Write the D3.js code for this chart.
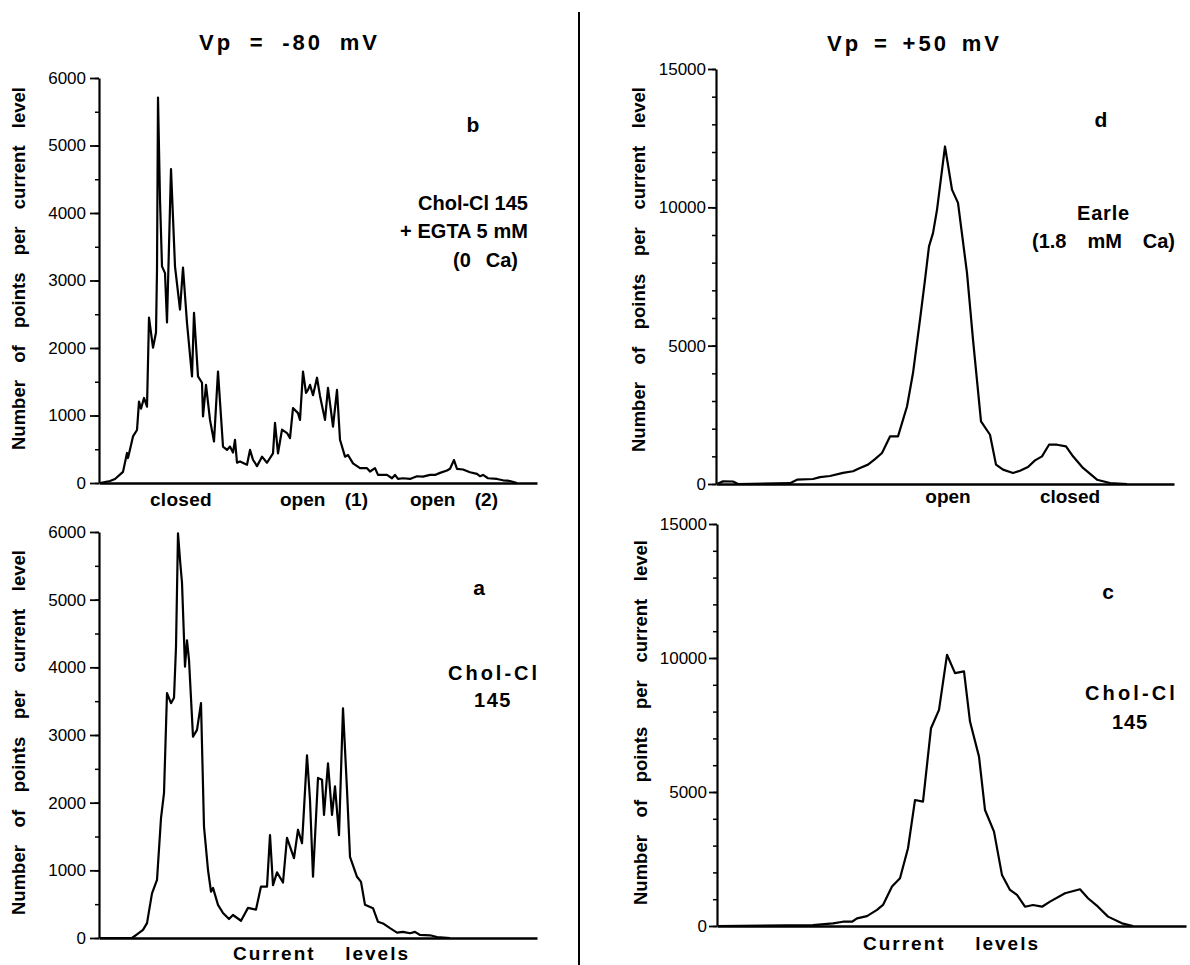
<!DOCTYPE html>
<html>
<head>
<meta charset="utf-8">
<script src="https://cdn.jsdelivr.net/npm/d3@7"></script>
<style>
  body { margin: 0; background: #fff; }
  svg { display: block; font-family: "Liberation Sans", Arial, Helvetica, sans-serif; }
</style>
</head>
<body>
<svg id="fig" width="1190" height="965"></svg>
<script>
// Amplitude histograms: [current level (bin), number of points]
const histB = [[1,0],[11,30],[16,60],[24,165],[28,445],[29,370],[34,690],[38,785],[40,1205],[42,1100],[45,1260],[48,1130],
  [50,2450],[54,2005],[57,2230],[58,3160],[59,5710],[61,4200],[63,3210],[66,3110],[68,2380],[72,4650],[76,3210],[81,2570],
  [84,3190],[88,2370],[93,1580],[95,2520],[99,1580],[103,1485],[104,985],[107,1455],[111,935],[115,615],[119,1650],[124,540],
  [128,490],[131,540],[134,450],[136,640],[138,300],[141,320],[148,270],[151,490],[154,345],[158,250],[163,390],[168,300],
  [174,440],[176,890],[179,440],[183,790],[188,740],[191,665],[194,1110],[199,1035],[201,935],[204,1650],[207,1335],[209,1380],
  [211,1455],[214,1300],[218,1560],[221,1290],[226,935],[229,1410],[234,835],[238,1380],[241,640],[246,390],[249,415],[254,290],
  [261,220],[268,220],[271,170],[276,220],[279,120],[288,120],[293,70],[296,120],[299,60],[304,70],[311,60],[318,100],[324,95],
  [331,120],[336,120],[341,150],[348,185],[351,210],[355,340],[358,210],[364,200],[371,160],[378,135],[381,100],[384,120],
  [389,70],[398,60],[404,40],[411,30],[418,0]];

const histA = [[1,0],[33,0],[38,55],[44,120],[48,220],[53,660],[58,860],[62,1770],[65,2140],[68,3620],[72,3470],[75,3550],
  [77,4300],[79,5980],[81,5590],[83,5250],[86,4010],[88,4400],[90,4110],[94,2975],[98,3075],[102,3470],[105,1645],[109,1005],
  [112,685],[114,740],[119,490],[124,370],[130,280],[134,340],[142,255],[149,445],[157,420],[162,760],[168,760],[171,1520],
  [174,780],[178,970],[184,820],[188,1480],[195,1180],[199,1600],[203,1400],[204,1645],[208,2700],[211,2040],[214,905],
  [219,2365],[223,2340],[225,1820],[229,2580],[233,1820],[236,2240],[240,1520],[244,3395],[248,2190],[251,1200],[258,905],
  [262,830],[266,490],[274,440],[279,240],[284,215],[291,145],[298,80],[304,90],[311,70],[316,90],[321,45],[331,40],[338,15],[351,0]];

const histD = [[1,0],[7,95],[17,90],[22,0],[74,30],[81,155],[97,180],[104,250],[114,290],[127,400],[137,460],[144,580],
  [152,700],[159,900],[166,1120],[174,1720],[182,1720],[191,2800],[197,4010],[204,5940],[209,7380],[213,8590],[217,9070],
  [221,9910],[229,12200],[236,10640],[242,10160],[251,7630],[257,5215],[265,2260],[274,1780],[280,700],[287,520],[297,400],
  [304,480],[312,615],[319,855],[326,1000],[333,1420],[341,1420],[350,1360],[357,1000],[367,580],[381,155],[394,36],[411,0]];

const histC = [[1,0],[96,30],[116,100],[126,160],[135,160],[140,285],[150,370],[160,600],[166,785],[175,1470],[183,1780],
  [191,2900],[198,4700],[206,4640],[214,7380],[222,8065],[230,10120],[238,9435],[247,9500],[253,7630],[262,6320],[268,4330],
  [277,3520],[285,1900],[293,1345],[300,1160],[308,720],[316,785],[325,720],[333,910],[348,1220],[363,1370],[371,1035],
  [381,720],[391,350],[405,100],[416,0]];

const ticksLow = [0, 1000, 2000, 3000, 4000, 5000, 6000];
const ticksHigh = [0, 5000, 10000, 15000];

const yTitle = "Number of points per current level";
const xTitle = "Current levels";
const titleNeg = "Vp = -80 mV";
const titlePos = "Vp = +50 mV";

const svg = d3.select("#fig");

// Panel frames (pixel layout)
const panels = [
  { id: "b", data: histB, x0: 99,  x1: 537,  y0: 483, y1: 78,  max: 6000,  ticks: ticksLow,  minor: 500,  tick: 9, pad: 4 },
  { id: "a", data: histA, x0: 99,  x1: 537,  y0: 938, y1: 532, max: 6000,  ticks: ticksLow,  minor: 500,  tick: 9, pad: 4 },
  { id: "d", data: histD, x0: 716, x1: 1174, y0: 484, y1: 69,  max: 15000, ticks: ticksHigh, minor: 1000, tick: 8, pad: 2 },
  { id: "c", data: histC, x0: 717, x1: 1186, y0: 926, y1: 524, max: 15000, ticks: ticksHigh, minor: 1000, tick: 8, pad: 2 }
];

panels.forEach(p => {
  const x = d3.scaleLinear().domain([0, p.x1 - p.x0]).range([p.x0, p.x1]);
  const y = d3.scaleLinear().domain([0, p.max]).range([p.y0, p.y1]);
  const g = svg.append("g");

  // minor ticks
  g.append("g").attr("transform", `translate(${p.x0},0)`)
    .call(d3.axisLeft(y).tickValues(d3.range(0, p.max + 1, p.minor)).tickSize(4).tickSizeOuter(0).tickFormat(""))
    .call(s => s.select(".domain").remove())
    .selectAll("line").attr("stroke", "#000").attr("stroke-width", 1.5);

  // major ticks with labels and axis line
  const ya = g.append("g").attr("transform", `translate(${p.x0},0)`)
    .call(d3.axisLeft(y).tickValues(p.ticks).tickSize(p.tick).tickSizeOuter(0).tickPadding(p.pad).tickFormat(d3.format("d")));
  ya.select(".domain").attr("stroke", "#000").attr("stroke-width", 2.2);
  ya.selectAll(".tick line").attr("stroke", "#000").attr("stroke-width", 1.8);
  ya.selectAll(".tick text").attr("font-size", 17).attr("fill", "#000")
    .attr("font-family", "\"Liberation Sans\", Arial, sans-serif");

  const xa = g.append("g").attr("transform", `translate(0,${p.y0})`)
    .call(d3.axisBottom(x).tickValues([]).tickSizeOuter(0));
  xa.select(".domain").attr("stroke", "#000").attr("stroke-width", 2.4);

  g.append("path").datum(p.data)
    .attr("fill", "none").attr("stroke", "#000").attr("stroke-width", 2.2)
    .attr("stroke-linejoin", "round")
    .attr("d", d3.line().x(d => x(d[0])).y(d => y(d[1])));
});

// divider between the two holding potentials
svg.append("line").attr("x1", 579).attr("x2", 579).attr("y1", 12).attr("y2", 965)
  .attr("stroke", "#000").attr("stroke-width", 2);

// text placed between x0 and x1, gaps stretched to fit
function label(t, x0, x1, y, size, opts = {}) {
  const el = svg.append("text").attr("x", x0).attr("y", y)
    .attr("font-size", size).attr("font-weight", "bold").attr("fill", "#000")
    .style("white-space", "pre").text(t);
  if (opts.ls) el.attr("letter-spacing", opts.ls);
  if (x1 != null) {
    const w = el.node().getComputedTextLength();
    const n = (t.match(/ /g) || []).length;
    if (n) el.attr("word-spacing", (x1 - x0 - w) / n);
    else el.attr("letter-spacing", (opts.ls || 0) + (x1 - x0 - w) / (t.length));
  }
  return el;
}
function centered(t, cx, y, size) {
  return svg.append("text").attr("x", cx).attr("y", y).attr("text-anchor", "middle")
    .attr("font-size", size).attr("font-weight", "bold").attr("fill", "#000").text(t);
}
function yLabel(bx, yBottom, yTop) {
  const el = svg.append("text").attr("transform", `translate(${bx},${yBottom}) rotate(-90)`)
    .attr("font-size", 18.5).attr("font-weight", "bold").attr("fill", "#000").text(yTitle);
  const w = el.node().getComputedTextLength();
  const n = (yTitle.match(/ /g) || []).length;
  el.attr("word-spacing", (yBottom - yTop - w) / n);
}

// column titles
label(titleNeg, 199, 380, 50, 22, { ls: 3 });
label(titlePos, 827, 1002, 51, 22, { ls: 3 });

// y-axis titles
yLabel(25, 450, 87);
yLabel(25, 915, 550);
yLabel(645, 452, 87);
yLabel(647, 905, 540);

// panel b
centered("b", 473, 132, 21);
label("Chol-Cl 145", 418, 528, 210, 20);
label("+ EGTA 5 mM", 400, 528, 238, 20);
label("(0 Ca)", 453, 518, 267, 20);
label("closed", 150, 212, 506, 19);
label("open (1)", 280, 368, 506, 19);
label("open (2)", 410, 498, 506, 19);

// panel a
centered("a", 479, 595, 21);
label("Chol-Cl", 448, 540, 680, 20);
label("145", 474, 512, 707, 20);
label(xTitle, 233, 410, 960, 19, { ls: 2 });

// panel d
centered("d", 1101, 127, 21);
label("Earle", 1077, 1130, 220, 20);
label("(1.8 mM Ca)", 1032, 1175, 248, 20);
centered("open", 948, 503, 19);
centered("closed", 1070, 503, 19);

// panel c
centered("c", 1108, 599, 21);
label("Chol-Cl", 1085, 1178, 700, 20);
label("145", 1112, 1148, 729, 20);
label(xTitle, 863, 1040, 950, 19, { ls: 2 });
</script>
</body>
</html>
